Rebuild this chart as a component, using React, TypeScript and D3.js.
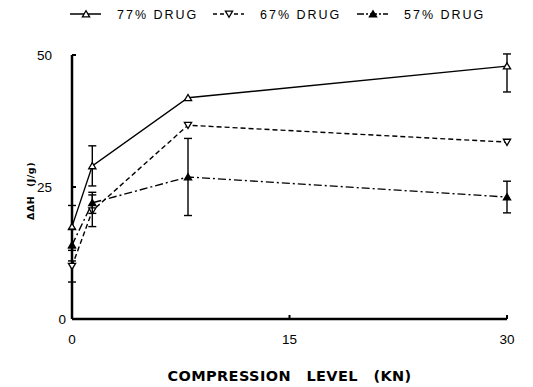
import React from "react";
import * as d3 from "d3";

// x positions (compression level, KN)
const compression = [0, 1.4, 8, 30];

// mean ΔΔH values per drug load
const drug77 = [17.5, 29, 41.9, 47.9];
const drug67 = [10, 20.5, 36.7, 33.5];
const drug57 = [14, 22, 26.9, 23.1];

// error bar extents (up / down)
const err77Up = [4, 3.8, 0, 2.3];
const err77Down = [4, 3.8, 0, 4.9];
const err67Up = [3, 3, 0, 0];
const err67Down = [3, 3, 0, 0];
const err57Up = [3, 2, 7.3, 3];
const err57Down = [3, 2, 7.3, 3];

const xTicks = [0, 15, 30];
const yTicks = [0, 25, 50];
const seriesNames = ["77% DRUG", "67% DRUG", "57% DRUG"];

const W = 533, H = 387;
const margin = { top: 55, right: 26, bottom: 68, left: 72 };

export default function App() {
  const x = d3.scaleLinear().domain([0, 30]).range([margin.left, W - margin.right]);
  const y = d3.scaleLinear().domain([0, 50]).range([H - margin.bottom, margin.top]);

  const series = [
    { name: seriesNames[0], values: drug77, up: err77Up, down: err77Down, dash: "none", marker: "up-open" },
    { name: seriesNames[1], values: drug67, up: err67Up, down: err67Down, dash: "5,3", marker: "down-open" },
    { name: seriesNames[2], values: drug57, up: err57Up, down: err57Down, dash: "8,3,2,3", marker: "up-filled" },
  ];

  const line = d3.line<number>()
    .x((_, i) => x(compression[i]))
    .y((d) => y(d));

  const marker = (kind: string, cx: number, cy: number, key?: string) => {
    const s = 3.6;
    if (kind === "down-open") {
      return <path key={key} d={`M${cx - s},${cy - s * 0.8}L${cx + s},${cy - s * 0.8}L${cx},${cy + s * 0.9}Z`} fill="#fff" stroke="#000" strokeWidth={1.3} />;
    }
    return (
      <path key={key} d={`M${cx - s},${cy + s * 0.8}L${cx + s},${cy + s * 0.8}L${cx},${cy - s * 0.9}Z`}
        fill={kind === "up-filled" ? "#000" : "#fff"} stroke="#000" strokeWidth={1.3} />
    );
  };

  const font = "'Liberation Sans', Arial, sans-serif";
  const legendX = [70, 213, 357];

  return (
    <svg width={W} height={H} style={{ position: "absolute", left: 0, top: 0, background: "#fff" }}>
      {/* legend */}
      {series.map((s, i) => (
        <g key={s.name} transform={`translate(${legendX[i]},14)`}>
          <line x1={0} x2={31} y1={0} y2={0} stroke="#000" strokeWidth={1.5} strokeDasharray={s.dash === "none" ? undefined : s.dash === "5,3" ? "4,3" : "7,2,2,2"} />
          {marker(s.marker, 16, 0)}
          <text x={47} y={5} fontFamily={font} fontSize={12.5} fill="#000" letterSpacing={2}>{s.name}</text>
        </g>
      ))}

      {/* axes */}
      <line x1={x(0)} x2={x(0)} y1={y(50)} y2={y(0)} stroke="#000" strokeWidth={2.5} />
      <line x1={x(0)} x2={x(30)} y1={y(0)} y2={y(0)} stroke="#000" strokeWidth={2.5} />
      {yTicks.map((t) => (
        <g key={"y" + t}>
          <line x1={x(0)} x2={x(0) + 4} y1={y(t)} y2={y(t)} stroke="#000" strokeWidth={2} />
          <text x={t === 0 ? x(0) - 6 : x(0) - 20} y={y(t) + 5} textAnchor="end" fontFamily={font} fontSize={13.5} fill="#000">{t}</text>
        </g>
      ))}
      {xTicks.map((t) => (
        <g key={"x" + t}>
          <line x1={x(t)} x2={x(t)} y1={y(0)} y2={y(0) - 4} stroke="#000" strokeWidth={2} />
          <text x={x(t)} y={y(0) + 25} textAnchor="middle" fontFamily={font} fontSize={13.5} fill="#000">{t}</text>
        </g>
      ))}

      {/* series */}
      {series.map((s) => (
        <g key={s.name}>
          <path d={line(s.values) || ""} fill="none" stroke="#000" strokeWidth={1.4} strokeDasharray={s.dash === "none" ? undefined : s.dash} />
          {s.values.map((v, i) =>
            s.up[i] + s.down[i] > 0 ? (
              <g key={i}>
                <line x1={x(compression[i])} x2={x(compression[i])} y1={y(v + s.up[i])} y2={y(v - s.down[i])} stroke="#000" strokeWidth={1.4} />
                <line x1={x(compression[i]) - 4} x2={x(compression[i]) + 4} y1={y(v + s.up[i])} y2={y(v + s.up[i])} stroke="#000" strokeWidth={1.4} />
                <line x1={x(compression[i]) - 4} x2={x(compression[i]) + 4} y1={y(v - s.down[i])} y2={y(v - s.down[i])} stroke="#000" strokeWidth={1.4} />
              </g>
            ) : null
          )}
          {s.values.map((v, i) => marker(s.marker, x(compression[i]), y(v), s.name + i))}
        </g>
      ))}

      {/* axis titles */}
      <text x={(x(0) + x(30)) / 2} y={381} textAnchor="middle" fontFamily="'DejaVu Sans', sans-serif" fontWeight="bold" fontSize={14.5} letterSpacing={0.4} wordSpacing={10} fill="#000">COMPRESSION LEVEL (KN)</text>
      <text transform={`translate(34,191) rotate(-90)`} textAnchor="middle" fontFamily="'DejaVu Sans', sans-serif" fontWeight="bold" fontSize={9.5} letterSpacing={0.5} wordSpacing={5} fill="#000">ΔΔH (J/g)</text>
    </svg>
  );
}
